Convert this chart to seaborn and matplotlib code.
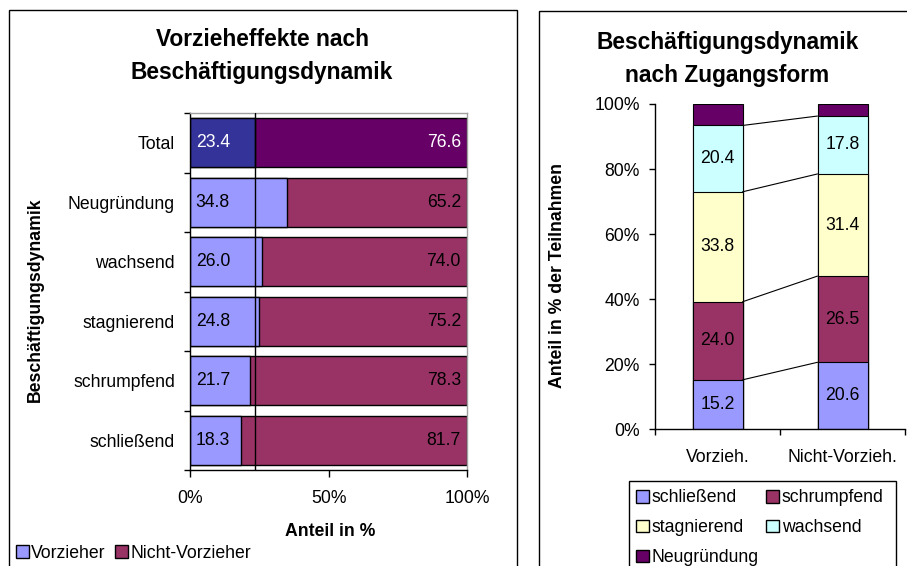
import numpy as np
import pandas as pd
import matplotlib
matplotlib.use("Agg")
import matplotlib.pyplot as plt
import matplotlib.ticker as mtick
from matplotlib.patches import Patch, Rectangle
import seaborn as sns

# left chart: Vorzieheffekte nach Beschaeftigungsdynamik
dyn_categories = ["Total", "Neugründung", "wachsend", "stagnierend",
                  "schrumpfend", "schließend"]
vorzieher = [23.4, 34.8, 26.0, 24.8, 21.7, 18.3]
nicht_vorzieher = [76.6, 65.2, 74.0, 75.2, 78.3, 81.7]
share_ticks = [0, 50, 100]

# right chart: Beschaeftigungsdynamik nach Zugangsform
access_forms = ["Vorzieh.", "Nicht-Vorzieh."]
schliessend = [15.2, 20.6]
schrumpfend = [24.0, 26.5]
stagnierend = [33.8, 31.4]
wachsend = [20.4, 17.8]
neugruendung = [6.6, 3.7]
pct_ticks = [0, 20, 40, 60, 80, 100]

VORZ = "#9999FF"
NICHT = "#993366"
TOTAL_V = "#333399"
TOTAL_N = "#660066"
STAG = "#FFFFCC"
WACHS = "#CCFFFF"
NEU = "#660066"

FS = 12.7
FS_TITLE = 16.4

sns.set_theme(style="white")
plt.rcParams["font.family"] = ["Liberation Sans", "DejaVu Sans"]
plt.rcParams["font.size"] = FS
plt.rcParams["text.color"] = "black"
plt.rcParams["axes.labelcolor"] = "black"

W, H = 907, 566
fig = plt.figure(figsize=(W / 100, H / 100), dpi=100)


def fig_box(x0, y0, x1, y1):
    """pixel coords (top-left origin) -> figure fraction rect"""
    return [x0 / W, 1 - y1 / H, (x1 - x0) / W, (y1 - y0) / H]


# panel frames
for x0, y0, x1, y1 in [(8.5, 10, 516.5, 580), (538.5, 10.5, 920, 580)]:
    fig.patches.append(Rectangle((x0 / W, 1 - y1 / H), (x1 - x0) / W, (y1 - y0) / H,
                                 transform=fig.transFigure, fill=False,
                                 edgecolor="black", linewidth=1, clip_on=False))

# ---------------- left chart ----------------
L_TOP, L_BOT, L_LEFT, L_RIGHT = 113, 470, 190, 467.3
ax1 = fig.add_axes(fig_box(L_LEFT, L_TOP, L_RIGHT, L_BOT))
df_left = pd.DataFrame({"kategorie": dyn_categories,
                        "vorzieher": vorzieher,
                        "nicht": nicht_vorzieher})
df_left["gesamt"] = df_left["vorzieher"] + df_left["nicht"]
pal_n = {c: (TOTAL_N if c == "Total" else NICHT) for c in dyn_categories}
pal_v = {c: (TOTAL_V if c == "Total" else VORZ) for c in dyn_categories}

sns.barplot(data=df_left, x="gesamt", y="kategorie", hue="kategorie",
            order=dyn_categories, palette=pal_n, saturation=1, width=0.82,
            edgecolor="black", linewidth=1, errorbar=None, legend=False, ax=ax1)
sns.barplot(data=df_left, x="vorzieher", y="kategorie", hue="kategorie",
            order=dyn_categories, palette=pal_v, saturation=1, width=0.82,
            edgecolor="black", linewidth=1, errorbar=None, legend=False, ax=ax1)

ax1.axvline(vorzieher[0], color="black", linewidth=1, zorder=5)

for i, (cat, v, n) in enumerate(zip(dyn_categories, vorzieher, nicht_vorzieher)):
    col = "white" if cat == "Total" else "black"
    ax1.annotate(f"{v:.1f}", xy=(0, i), xytext=(4.1, 0), textcoords="offset points",
                 ha="left", va="center", color=col, fontsize=FS, zorder=6)
    ax1.annotate(f"{n:.1f}", xy=(v + n, i), xytext=(-4.6, 0), textcoords="offset points",
                 ha="right", va="center", color=col, fontsize=FS, zorder=6)

ax1.set_xlim(0, 100)
ax1.set_ylim(len(dyn_categories) - 0.5, -0.5)
ax1.set_xticks(share_ticks)
ax1.xaxis.set_major_formatter(mtick.PercentFormatter(decimals=0))
ax1.set_yticks(range(len(dyn_categories)))
ax1.set_yticklabels(dyn_categories)
ax1.set_yticks(np.arange(len(dyn_categories) + 1) - 0.5, minor=True)
ax1.tick_params(axis="y", which="major", length=0, pad=10.8, labelsize=FS, colors="black")
ax1.tick_params(axis="y", which="minor", left=True, length=4.5, width=1, color="black")
ax1.tick_params(axis="x", which="major", bottom=True, length=4.8, width=1, pad=9.7,
                labelsize=FS, colors="black")
for s in ["left", "bottom"]:
    ax1.spines[s].set_color("black")
    ax1.spines[s].set_linewidth(1)
for s in ["top", "right"]:
    ax1.spines[s].set_color("#A0A0A0")
    ax1.spines[s].set_linewidth(1)

ax1.set_xlabel("Anteil in %", fontsize=FS, fontweight="bold")
ax1.xaxis.label.set_va("center")
ax1.xaxis.set_label_coords((330 - L_LEFT) / (L_RIGHT - L_LEFT),
                           (L_BOT - 531.7) / (L_BOT - L_TOP))
ax1.set_ylabel("Beschäftigungsdynamik", fontsize=FS, fontweight="bold")
ax1.yaxis.label.set_va("center")
ax1.yaxis.set_label_coords((35 - L_LEFT) / (L_RIGHT - L_LEFT),
                           (L_BOT - 300) / (L_BOT - L_TOP))

fig.text(262 / W, 1 - 56 / H, "Vorzieheffekte nach\nBeschäftigungsdynamik",
         ha="center", va="center", fontsize=FS_TITLE, fontweight="bold", linespacing=1.52)

fig.legend(handles=[Patch(facecolor=VORZ, edgecolor="black", label="Vorzieher"),
                    Patch(facecolor=NICHT, edgecolor="black", label="Nicht-Vorzieher")],
           loc="center left", bbox_to_anchor=(15.7 / W, 1 - 553 / H), ncol=2,
           frameon=False, fontsize=FS, borderpad=0, borderaxespad=0,
           handlelength=0.75, handleheight=0.7, handletextpad=0.14,
           columnspacing=0.5)

# ---------------- right chart ----------------
R_TOP, R_BOT, R_LEFT, R_RIGHT = 104, 429.3, 655, 905
ax2 = fig.add_axes(fig_box(R_LEFT, R_TOP, R_RIGHT, R_BOT))
layer_names = ["schließend", "schrumpfend", "stagnierend", "wachsend", "Neugründung"]
layer_vals = np.array([schliessend, schrumpfend, stagnierend, wachsend, neugruendung])
layer_cols = [VORZ, NICHT, STAG, WACHS, NEU]
cum = np.cumsum(layer_vals, axis=0)

for i in reversed(range(len(layer_names))):
    df_r = pd.DataFrame({"form": access_forms, "wert": cum[i]})
    sns.barplot(data=df_r, x="form", y="wert", order=access_forms, color=layer_cols[i],
                saturation=1, width=0.4, edgecolor="black", linewidth=0.8,
                errorbar=None, ax=ax2)

for i in range(len(layer_names) - 1):
    for j in range(len(access_forms)):
        ax2.text(j, cum[i][j] - layer_vals[i][j] / 2, f"{layer_vals[i][j]:.1f}",
                 ha="center", va="center", fontsize=FS)
    ax2.plot([0.2, 0.8], [cum[i][0], cum[i][1]], color="black", linewidth=0.8)

ax2.set_xlim(-0.5, len(access_forms) - 0.5)
ax2.set_ylim(0, 100)
ax2.set_yticks(pct_ticks)
ax2.yaxis.set_major_formatter(mtick.PercentFormatter(decimals=0))
ax2.set_xticks(range(len(access_forms)))
ax2.set_xticklabels(access_forms)
ax2.set_xticks(np.arange(len(access_forms) + 1) - 0.5, minor=True)
ax2.tick_params(axis="x", which="major", length=0, pad=14.2, labelsize=FS, colors="black")
ax2.tick_params(axis="x", which="minor", bottom=True, length=4.5, width=1, color="black")
ax2.tick_params(axis="y", which="major", left=True, length=4.3, width=1, pad=6.6,
                labelsize=FS, colors="black")
for s in ["top", "right"]:
    ax2.spines[s].set_visible(False)
for s in ["left", "bottom"]:
    ax2.spines[s].set_color("black")
    ax2.spines[s].set_linewidth(1)
ax2.set_xlabel("")
ax2.set_ylabel("Anteil in % der Teilnahmen", fontsize=FS, fontweight="bold")
ax2.yaxis.label.set_va("center")
ax2.yaxis.set_label_coords((557.5 - R_LEFT) / (R_RIGHT - R_LEFT),
                           (R_BOT - 275) / (R_BOT - R_TOP))

fig.text(727.5 / W, 1 - 59 / H, "Beschäftigungsdynamik\nnach Zugangsform",
         ha="center", va="center", fontsize=FS_TITLE, fontweight="bold", linespacing=1.55)

fig.patches.append(Rectangle((628.5 / W, 1 - 600 / H), (895.5 - 628.5) / W, (600 - 480.7) / H,
                             transform=fig.transFigure, fill=False, edgecolor="black",
                             linewidth=1, clip_on=False))
handles = [Patch(facecolor=c, edgecolor="black", label=n)
           for n, c in zip(layer_names, layer_cols)]
order = [0, 2, 4, 1, 3]  # column-major fill -> row-major look
fig.legend(handles=[handles[k] for k in order], loc="upper left",
           bbox_to_anchor=(635.7 / W, 1 - 489.5 / H), ncol=2, frameon=False,
           fontsize=FS, borderpad=0, borderaxespad=0, labelspacing=0.72,
           handlelength=0.75, handleheight=0.7, handletextpad=0.14,
           columnspacing=0.42)

fig.savefig("out.png", dpi=100)
